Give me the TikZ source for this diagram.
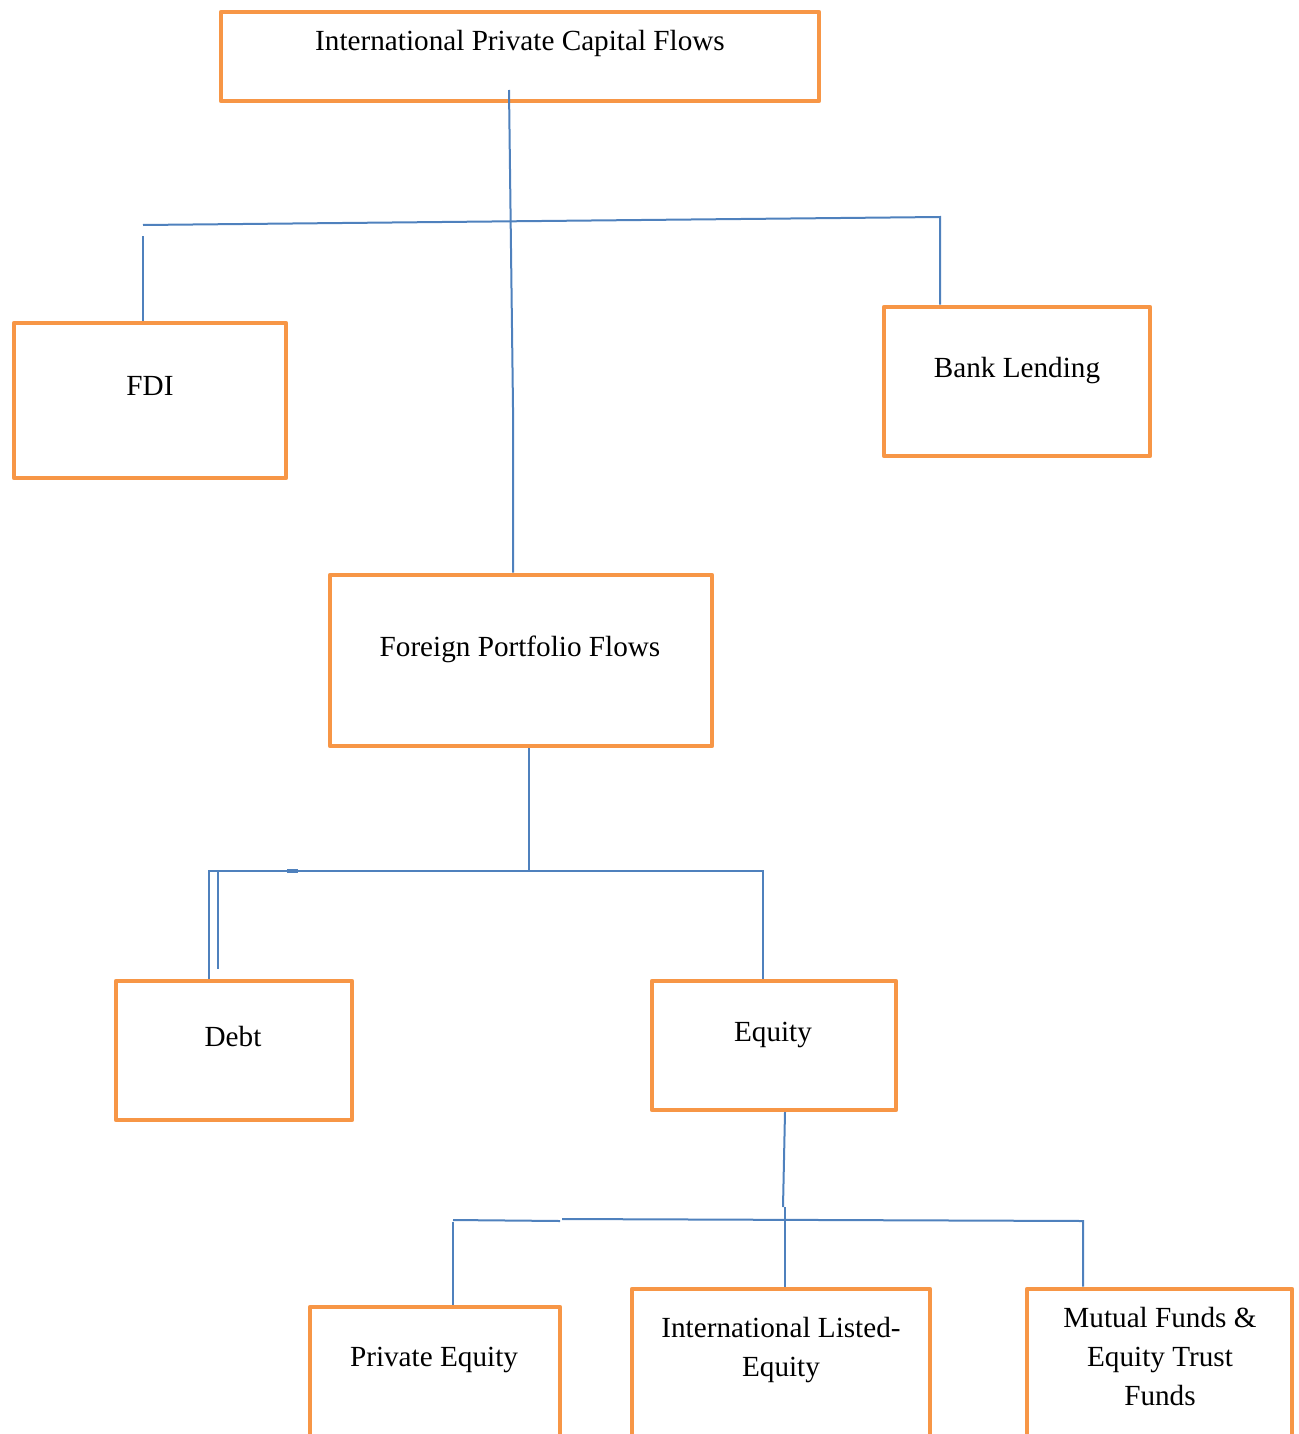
\documentclass[tikz,border=0pt]{standalone}
\usepackage{fontspec}
\setmainfont{Liberation Serif}
\definecolor{boxor}{HTML}{F79646}
\definecolor{linebl}{HTML}{4F81BD}
\begin{document}
\begin{tikzpicture}[x=0.5pt,y=-0.5pt,
  box/.style={draw=boxor,line width=2.4pt,rectangle,inner sep=0pt,line join=round},
  txt/.style={anchor=base,inner sep=0pt,align=center,font=\fontsize{14.6pt}{19.3pt}\selectfont},
  conn/.style={draw=linebl,line width=1pt}]
\useasboundingbox (0,0) rectangle (1298,1434);
% boxes
\node[box,minimum width=299pt,minimum height=44.5pt] (top) at (520,56.5) {};
\node[box,minimum width=136pt,minimum height=77.5pt] (fdi) at (150,400.5) {};
\node[box,minimum width=133pt,minimum height=74.5pt] (bank) at (1017,381.5) {};
\node[box,minimum width=191pt,minimum height=85.5pt] (fpf) at (521,660.5) {};
\node[box,minimum width=118pt,minimum height=69.5pt] (debt) at (234,1050.5) {};
\node[box,minimum width=122pt,minimum height=64.5pt] (equity) at (774,1045.5) {};
\node[box,minimum width=125pt,minimum height=76.5pt] (pe) at (435,1383.5) {};
\node[box,minimum width=149pt,minimum height=85.5pt] (ile) at (781,1374.5) {};
\node[box,minimum width=132.5pt,minimum height=85.5pt] (mf) at (1159.5,1374.5) {};
% texts
\node[txt] (ttop) at (520,51) {International Private Capital Flows};
\node[txt] (tfdi) at (150,395) {FDI};
\node[txt] (tbank) at (1017,377) {Bank Lending};
\node[txt] (tfpf) at (520,656) {Foreign Portfolio Flows};
\node[txt] (tdebt) at (233,1046) {Debt};
\node[txt] (tequity) at (773,1041) {Equity};
\node[txt] (tpe) at (434,1366) {Private Equity};
\node[txt] (tile) at (781,1376) {International Listed-\\Equity};
\node[txt] (tmf) at (1160,1405) {Mutual Funds \&\\Equity Trust\\Funds};
% connectors level 1
\coordinate (a1) at (509,90);
\coordinate (a2) at (513,408);
\draw[conn] (a1) -- (a2) -- (a2 |- fpf.north);
\coordinate (h1) at (143,225);
\coordinate (h2) at (940,217);
\draw[conn] (h1) -- (h2) -- (h2 |- bank.north);
\coordinate (l1) at (143,236);
\draw[conn] (l1) -- (l1 |- fdi.north);
% connectors level 2
\coordinate (b1) at (529,871);
\coordinate (b2) at (209,871);
\coordinate (b3) at (763,871);
\draw[conn] (b1 |- fpf.south) -- (b1);
\draw[conn] (b2 |- debt.north) -- (b2) -- (b3) -- (b3 |- equity.north);
\coordinate (b4) at (218,871);
\coordinate (b5) at (218,969);
\draw[conn] (b4) -- (b5);
\coordinate (d1) at (287,871);
\coordinate (d2) at (298,871);
\draw[conn,line width=1.6pt] (d1) -- (d2);
% connectors level 3
\coordinate (c1) at (785,1112);
\coordinate (c2) at (783,1207);
\coordinate (c3) at (785,1207);
\draw[conn] (c1) -- (c2);
\draw[conn] (c3) -- (c3 |- ile.north);
\coordinate (e1) at (453,1220);
\coordinate (e2) at (560,1221);
\coordinate (e3) at (562,1219);
\coordinate (e4) at (1083,1221);
\draw[conn] (e1) -- (e2);
\draw[conn] (e3) -- (e4) -- (e4 |- mf.north);
\coordinate (e5) at (453,1222);
\draw[conn] (e5) -- (e5 |- pe.north);
\end{tikzpicture}
\end{document}
